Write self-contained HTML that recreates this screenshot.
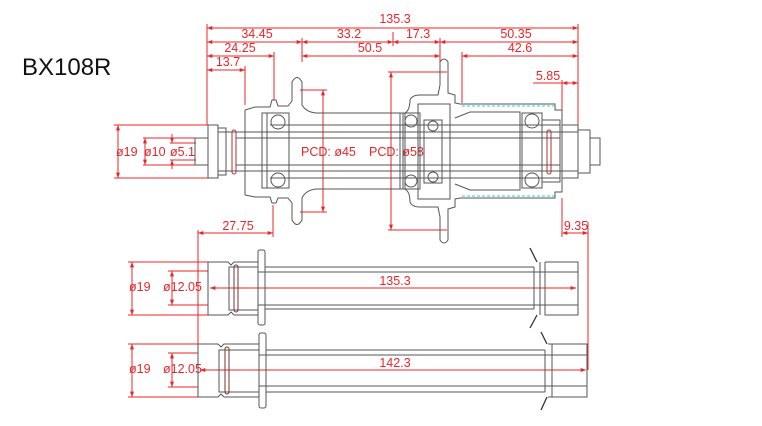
<!DOCTYPE html>
<html><head><meta charset="utf-8"><style>
html,body{margin:0;padding:0;background:#fff;}
svg{display:block;}
.r{stroke:#e8262a;stroke-width:1;fill:none;}
.g{stroke:#555;stroke-width:1;fill:none;}
.gt{stroke:#333;stroke-width:1.3;fill:none;}
.c{stroke:#3cc;stroke-width:1;fill:none;stroke-dasharray:3,2;}
text{font-family:"Liberation Sans",sans-serif;fill:#e8262a;font-size:12.5px;}
</style></head><body>
<svg width="762" height="426" viewBox="0 0 762 426" xmlns="http://www.w3.org/2000/svg">
<defs>
<marker id="a" viewBox="0 0 8 6" refX="8" refY="3" markerWidth="6" markerHeight="4" orient="auto-start-reverse"><path d="M0,0L8,3L0,6z" fill="#e8262a"/></marker>
</defs>
<text x="22" y="75" style="fill:#111;font-size:24px">BX108R</text>

<g class="r">
<line x1="207" y1="28" x2="578" y2="28" marker-start="url(#a)" marker-end="url(#a)"/>
<line x1="207" y1="42" x2="302" y2="42" marker-start="url(#a)" marker-end="url(#a)"/>
<line x1="302" y1="42" x2="393" y2="42" marker-start="url(#a)" marker-end="url(#a)"/>
<line x1="393" y1="42" x2="440" y2="42" marker-start="url(#a)" marker-end="url(#a)"/>
<line x1="440" y1="42" x2="578" y2="42" marker-start="url(#a)" marker-end="url(#a)"/>
<line x1="207" y1="56" x2="274" y2="56" marker-start="url(#a)" marker-end="url(#a)"/>
<line x1="302" y1="56" x2="440" y2="56" marker-start="url(#a)" marker-end="url(#a)"/>
<line x1="462" y1="56" x2="578" y2="56" marker-start="url(#a)" marker-end="url(#a)"/>
<line x1="207" y1="70" x2="245" y2="70" marker-start="url(#a)" marker-end="url(#a)"/>
<line x1="533" y1="83" x2="562" y2="83"/>
<line x1="562" y1="83" x2="578" y2="83" marker-start="url(#a)" marker-end="url(#a)"/>
<line x1="207" y1="24" x2="207" y2="125"/>
<line x1="578" y1="24" x2="578" y2="125"/>
<line x1="302" y1="38" x2="302" y2="62"/>
<line x1="393" y1="32" x2="393" y2="46"/>
<line x1="440" y1="38" x2="440" y2="62"/>
<line x1="274" y1="52" x2="274" y2="100"/>
<line x1="245" y1="66" x2="245" y2="105"/>
<line x1="462" y1="52" x2="462" y2="103"/>
<line x1="562" y1="80" x2="562" y2="110"/>
<line x1="300" y1="90" x2="327" y2="90"/><line x1="300" y1="212" x2="327" y2="212"/>
<line x1="323" y1="90" x2="323" y2="212" marker-start="url(#a)" marker-end="url(#a)"/>
<line x1="388" y1="72" x2="447" y2="72"/><line x1="388" y1="230" x2="447" y2="230"/>
<line x1="391" y1="72" x2="391" y2="230" marker-start="url(#a)" marker-end="url(#a)"/>
<line x1="114" y1="125" x2="208" y2="125"/><line x1="114" y1="178" x2="208" y2="178"/>
<line x1="118" y1="125" x2="118" y2="178" marker-start="url(#a)" marker-end="url(#a)"/>
<line x1="143" y1="138" x2="196" y2="138"/><line x1="143" y1="165" x2="196" y2="165"/>
<line x1="145" y1="138" x2="145" y2="165" marker-start="url(#a)" marker-end="url(#a)"/>
<line x1="170" y1="143" x2="196" y2="143"/><line x1="170" y1="160" x2="196" y2="160"/>
<line x1="172" y1="134" x2="172" y2="143" marker-end="url(#a)"/><line x1="172" y1="169" x2="172" y2="160" marker-end="url(#a)"/>
<line x1="198" y1="230" x2="198" y2="397"/>
<line x1="198" y1="233" x2="273" y2="233" marker-start="url(#a)" marker-end="url(#a)"/>
<line x1="273" y1="205" x2="273" y2="237"/>
<line x1="562" y1="198" x2="562" y2="237"/>
<line x1="588" y1="222" x2="588" y2="370"/>
<line x1="562" y1="233" x2="588" y2="233" marker-start="url(#a)" marker-end="url(#a)"/>
<line x1="128" y1="262" x2="208" y2="262"/><line x1="128" y1="315" x2="208" y2="315"/>
<line x1="132" y1="262" x2="132" y2="315" marker-start="url(#a)" marker-end="url(#a)"/>
<line x1="168" y1="271" x2="208" y2="271"/><line x1="168" y1="305" x2="208" y2="305"/>
<line x1="172" y1="271" x2="172" y2="305" marker-start="url(#a)" marker-end="url(#a)"/>
<line x1="128" y1="344" x2="198" y2="344"/><line x1="128" y1="397" x2="198" y2="397"/>
<line x1="132" y1="344" x2="132" y2="397" marker-start="url(#a)" marker-end="url(#a)"/>
<line x1="168" y1="353" x2="198" y2="353"/><line x1="168" y1="387" x2="198" y2="387"/>
<line x1="172" y1="353" x2="172" y2="387" marker-start="url(#a)" marker-end="url(#a)"/>
<line x1="210" y1="288" x2="576" y2="288" marker-start="url(#a)" marker-end="url(#a)"/>
<line x1="200" y1="370" x2="586" y2="370" marker-start="url(#a)" marker-end="url(#a)"/>
</g>
<g>
<text x="395" y="23" text-anchor="middle">135.3</text>
<text x="257" y="38" text-anchor="middle">34.45</text>
<text x="349" y="38" text-anchor="middle">33.2</text>
<text x="418" y="38" text-anchor="middle">17.3</text>
<text x="516" y="38" text-anchor="middle">50.35</text>
<text x="240" y="52" text-anchor="middle">24.25</text>
<text x="370" y="52" text-anchor="middle">50.5</text>
<text x="520" y="52" text-anchor="middle">42.6</text>
<text x="228" y="66" text-anchor="middle">13.7</text>
<text x="548" y="80" text-anchor="middle">5.85</text>
<text x="301" y="156">PCD: ø45</text>
<text x="369" y="156">PCD: ø58</text>
<text x="116" y="156">ø19</text>
<text x="144" y="156">ø10</text>
<text x="170" y="156">ø5.1</text>
<text x="238" y="230" text-anchor="middle">27.75</text>
<text x="576" y="230" text-anchor="middle">9.35</text>
<text x="129" y="291">ø19</text>
<text x="163" y="291">ø12.05</text>
<text x="395" y="285" text-anchor="middle">135.3</text>
<text x="129" y="373">ø19</text>
<text x="163" y="373">ø12.05</text>
<text x="395" y="367" text-anchor="middle">142.3</text>
</g>

<g class="g">
<rect x="195" y="138" width="13" height="27"/>
<rect x="208" y="125" width="10" height="53"/>
<rect x="218" y="128" width="8" height="47"/>
<rect x="226" y="132" width="10" height="39"/>
<rect x="232" y="130" width="4" height="44" rx="2" style="stroke:#a33"/>
<line x1="218" y1="132" x2="578" y2="132"/><line x1="218" y1="171" x2="578" y2="171"/>
<line x1="236" y1="138" x2="560" y2="138"/><line x1="236" y1="165" x2="560" y2="165"/>
<line x1="270" y1="125" x2="560" y2="125"/><line x1="270" y1="178" x2="560" y2="178"/>
<path d="M245,110 L255,107 L270,107 L272,100 L276,100 L278,106 L288,106 L292,101 L292,82 Q297,73 302,82 L302,105 Q306,112 316,113 L405,113 Q410,110 410,100 Q412,95 420,95 L438,95 L440,85 L440,62 Q444,56 448,62 L448,93 L455,95 L455,103 L460,104 L555,104 L555,110 L562,110 L562,125"/>
<path d="M245,195 L255,197 L270,197 L272,203 L276,203 L278,198 L288,198 L292,203 L292,220 Q297,229 302,220 L302,198 Q306,190 316,189 L405,189 Q410,192 410,202 Q412,207 420,207 L438,207 L440,217 L440,240 Q444,246 448,240 L448,209 L455,207 L455,199 L460,198 L555,198 L555,192 L562,192 L562,178"/>
<line x1="245" y1="110" x2="245" y2="195"/>
<rect x="262" y="113" width="5" height="75"/>
<rect x="267" y="113" width="22" height="75"/>
<circle cx="278" cy="122" r="7"/><circle cx="278" cy="180" r="7"/>
<rect x="400" y="113" width="5" height="76"/>
<rect x="403" y="113" width="17" height="76"/>
<circle cx="411" cy="121" r="6"/><circle cx="411" cy="181" r="6"/>
<rect x="424" y="120" width="18" height="63"/>
<circle cx="433" cy="126" r="5"/><circle cx="433" cy="177" r="5"/>
<rect x="418" y="104" width="32" height="95"/>
<path d="M455,118 L470,112 L520,112 L520,190 L470,190 L455,184"/>
<rect x="522" y="113" width="20" height="75"/>
<circle cx="532" cy="121" r="7"/><circle cx="532" cy="180" r="7"/>
<rect x="542" y="120" width="18" height="62"/>
<rect x="547" y="130" width="4" height="44" rx="2" style="stroke:#a33"/>
<rect x="562" y="125" width="16" height="53"/>
<rect x="578" y="130" width="12" height="43"/>
<rect x="590" y="138" width="10" height="27"/>
</g>
<line class="c" x1="462" y1="106" x2="555" y2="106"/>
<line class="c" x1="462" y1="196" x2="555" y2="196"/>

<g class="g">
<path d="M208,262 L228,262 L231,265 L234,262 L258,262 M208,315 L228,315 L231,312 L234,315 L258,315 M208,262 L208,315"/>
<rect x="258" y="250" width="7" height="75" rx="2"/>
<rect x="229" y="267" width="29" height="43"/>
<rect x="234" y="265" width="4" height="47" rx="2" style="stroke:#733"/>
<line x1="265" y1="267" x2="534" y2="267"/><line x1="258" y1="272" x2="578" y2="272"/>
<line x1="258" y1="305" x2="578" y2="305"/><line x1="265" y1="309" x2="534" y2="309"/>
<path d="M534,267 L534,309 M540,262 L540,315 M545,262 L578,262 L578,315 L545,315 L545,262"/>
<path d="M530,248 L537,262 M530,328 L537,315" class="gt"/>

<path d="M198,344 L218,344 L221,347 L224,344 L259,344 M198,397 L218,397 L221,394 L224,397 L259,397 M198,344 L198,397"/>
<rect x="259" y="333" width="7" height="75" rx="2"/>
<rect x="219" y="350" width="40" height="42"/>
<rect x="225" y="347" width="4" height="47" rx="2" style="stroke:#733"/>
<line x1="266" y1="350" x2="545" y2="350"/><line x1="259" y1="355" x2="587" y2="355"/>
<line x1="259" y1="386" x2="587" y2="386"/><line x1="266" y1="392" x2="545" y2="392"/>
<path d="M545,350 L545,392 M548,344 L552,344 L552,397 L548,397 M552,344 L587,344 L587,397 L552,397"/>
<path d="M541,332 L547,344 M541,410 L547,397" class="gt"/>
</g>
</svg>
</body></html>
